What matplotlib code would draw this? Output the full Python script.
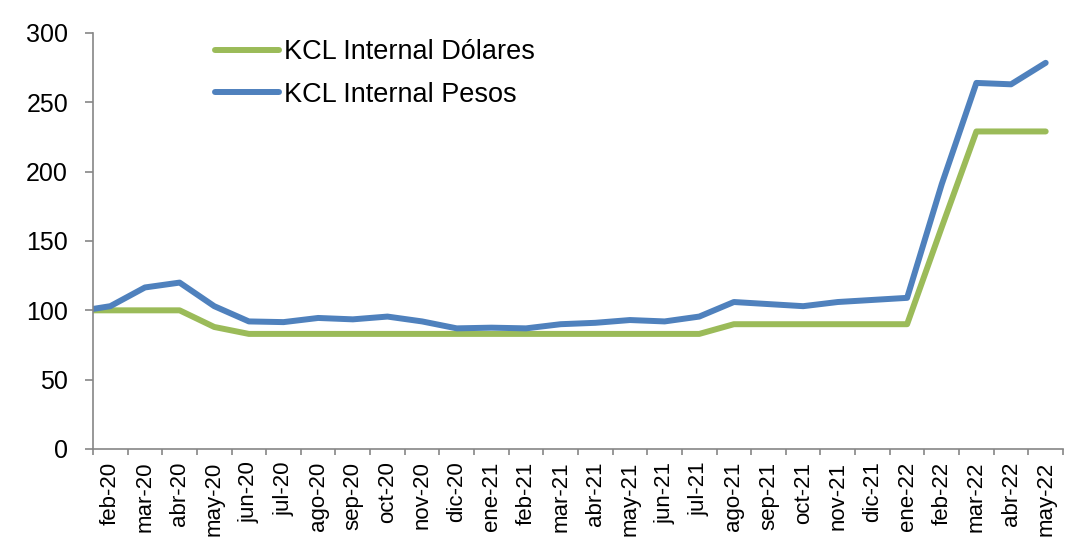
import matplotlib
matplotlib.use("Agg")
import matplotlib.pyplot as plt
import numpy as np

plt.rcParams['font.family'] = ['Liberation Sans', 'DejaVu Sans']

# First month (ene-20) lies before the visible axis range and is clipped
months = ["ene-20", "feb-20", "mar-20", "abr-20", "may-20", "jun-20", "jul-20", "ago-20",
          "sep-20", "oct-20", "nov-20", "dic-20", "ene-21", "feb-21", "mar-21", "abr-21",
          "may-21", "jun-21", "jul-21", "ago-21", "sep-21", "oct-21", "nov-21", "dic-21",
          "ene-22", "feb-22", "mar-22", "abr-22", "may-22"]
dolares = [100, 100, 100, 100, 88, 83, 83, 83, 83, 83, 83, 83, 83, 83, 83, 83,
           83, 83, 83, 90, 90, 90, 90, 90, 90, 160, 229, 229, 229]
pesos = [99, 103, 116.5, 120, 103, 92, 91.5, 94.5, 93.5, 95.5, 92, 87, 87.5, 87, 90, 91,
         93, 92, 95.5, 106, 104.5, 103, 106, 107.5, 109, 191, 264, 263, 278.5]
visible_labels = months[1:]

green = "#9BBB59"
blue = "#4F81BD"

fig = plt.figure(figsize=(10.67, 5.41), dpi=100)
ax = fig.add_axes([93/1067, 1-449/541, (1063-93)/1067, (449-33)/541])

x = np.arange(len(months)) - 1
ax.plot(x, dolares, color=green, lw=4.3, solid_capstyle='round', solid_joinstyle='round',
        label="KCL Internal Dólares")
ax.plot(x, pesos, color=blue, lw=4.3, solid_capstyle='round', solid_joinstyle='round',
        label="KCL Internal Pesos")

n = len(visible_labels)
ax.set_xlim(-0.5, n - 0.5)
ax.set_ylim(0, 300)
ax.set_yticks([0, 50, 100, 150, 200, 250, 300])
ax.tick_params(axis='y', labelsize=18, length=6, width=1.2, color="#868686", pad=12)

ax.set_xticks(np.arange(n + 1) - 0.5)
ax.set_xticklabels([])
ax.set_xticks(np.arange(n), minor=True)
ax.set_xticklabels(visible_labels, minor=True, rotation=90, fontsize=16)
ax.tick_params(axis='x', which='major', length=4, width=1.2, color="#868686")
ax.tick_params(axis='x', which='minor', length=0, pad=9)

for s in ['top', 'right']:
    ax.spines[s].set_visible(False)
for s in ['left', 'bottom']:
    ax.spines[s].set_color("#868686")
    ax.spines[s].set_linewidth(1.2)

ax.legend(loc='upper left', bbox_to_anchor=(0.126, 0.985), frameon=False, fontsize=19.5,
          handlelength=2.35, handletextpad=0.18, labelspacing=0.61, borderaxespad=0, borderpad=0)

fig.savefig("out.png", dpi=100)
